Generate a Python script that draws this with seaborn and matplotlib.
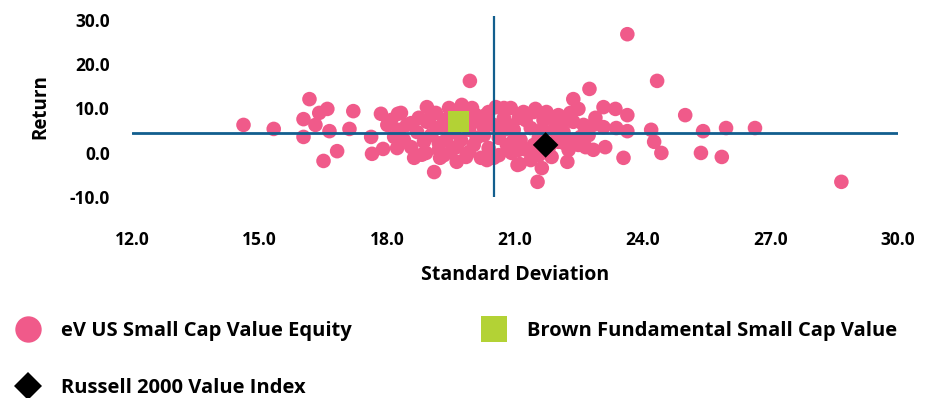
import matplotlib
matplotlib.use("Agg")
import matplotlib.pyplot as plt
from matplotlib.lines import Line2D
import pandas as pd
import seaborn as sns

# eV US Small Cap Value Equity universe (standard deviation, return)
universe_sd = [
    14.62, 15.33, 16.17, 16.03, 16.03, 16.31, 16.40, 16.59, 16.64, 16.82,
    16.50, 17.20, 17.11, 17.85, 17.62, 17.64, 17.90, 18.25, 18.56, 18.16,
    18.56, 18.93, 18.93, 18.81, 19.10, 19.24, 19.94, 19.75, 19.85, 20.20,
    20.50, 21.06, 20.55, 20.90, 23.64, 24.34, 22.75, 22.37, 23.08, 23.36,
    23.64, 22.89, 22.49, 22.30, 25.00, 24.20, 23.64, 23.38, 23.08, 25.42,
    25.96, 26.64, 24.27, 24.44, 25.37, 25.86, 23.55, 23.12, 22.66, 22.54,
    22.23, 21.63, 21.53, 21.11, 28.67, 19.68, 21.48, 21.09, 22.16, 21.86,
    20.92, 22.02, 22.09, 21.44, 21.25, 20.08, 20.31, 18.32, 19.33, 18.91,
    19.63, 19.21,
    18.00, 18.28, 18.39, 18.70, 18.74, 19.03, 19.17, 19.38, 19.45, 19.56,
    19.49, 19.73, 19.92, 20.03, 20.15, 20.27, 20.38, 20.50, 20.62, 20.74,
    20.81, 20.97, 21.13, 21.27, 21.37, 21.56, 21.67, 21.79, 21.91, 22.02,
    21.74, 22.14, 22.26, 22.37, 22.61, 22.73, 22.84, 21.56, 20.62, 19.92,
    19.33, 18.63, 18.23, 18.09, 19.14, 19.99, 20.74, 21.20, 21.86, 20.10,
    19.73, 20.85, 21.44, 21.09, 20.38, 19.45, 18.86, 18.46, 22.37, 21.37,
    20.34, 19.63, 19.56, 20.97, 20.74, 20.27, 19.85, 21.63, 21.98, 22.49,
    22.84, 18.98, 19.21,
]
universe_ret = [
    6.3, 5.4, 12.1, 7.6, 3.6, 6.3, 9.0, 9.9, 4.9, 0.4,
    -1.8, 9.4, 5.4, 8.8, 3.6, -0.2, 0.9, 8.8, 6.7, 3.6,
    1.3, 10.3, 7.0, -0.4, -4.3, -1.1, 16.2, 10.8, -0.9, -1.1,
    -1.1, -2.7, 10.3, 10.1, 26.7, 16.2, 14.4, 12.1, 10.3, 9.9,
    8.5, 7.9, 9.9, 9.0, 8.5, 5.2, 4.9, 5.6, 5.8, 4.9,
    5.6, 5.6, 2.5, 0.0, 0.0, -0.9, -1.1, 1.3, 1.3, 3.6,
    -2.0, -3.4, -6.5, -2.5, -6.5, 9.7, 9.9, 7.9, 2.2, -0.9,
    0.0, 2.5, 6.7, 9.2, 7.4, 8.5, 8.5, 9.0, 7.4, 0.0,
    1.3, 2.2,
    6.3, 5.2, 2.9, 4.7, 7.9, 4.0, 5.6, 2.9, 5.6, 7.9,
    0.2, 2.9, 5.2, 1.8, 7.0, 4.0, 1.1, 6.3, 3.4, 7.9,
    1.8, 5.2, 2.9, 0.7, 5.6, 3.4, 7.4, 1.1, 5.2, 8.5,
    9.2, 4.7, 0.7, 7.0, 6.3, 4.0, 0.7, -0.5, -0.5, 0.2,
    -0.5, -1.1, 1.1, 7.4, 9.0, 10.1, 10.1, 9.2, 7.9, 3.4,
    6.5, 6.3, 1.8, 0.7, 9.2, 10.1, 2.5, 6.3, 2.9, -1.6,
    -1.6, -2.0, 4.7, 2.9, 5.2, 5.6, 7.4, 5.2, 2.9, 1.8,
    6.3, 7.4, 0.7,
]

brown_sd = [19.68]
brown_ret = [7.0]

russell_sd = [21.72]
russell_ret = [1.8]

# universe medians (cross lines)
median_sd = 20.5
median_ret = 4.5

x_ticks = [12.0, 15.0, 18.0, 21.0, 24.0, 27.0, 30.0]
y_ticks = [-10.0, 0.0, 10.0, 20.0, 30.0]

PINK = "#F05A8A"
GREEN = "#B3D235"
LINE = "#125E8E"

sns.set_theme(style="white")
plt.rcParams["font.family"] = ["Open Sans", "DejaVu Sans"]
plt.rcParams["font.weight"] = "bold"
plt.rcParams["text.color"] = "black"
plt.rcParams["axes.labelcolor"] = "black"
plt.rcParams["xtick.color"] = "black"
plt.rcParams["ytick.color"] = "black"

fig = plt.figure(figsize=(9.39, 3.98), dpi=100)
ax = fig.add_axes([0.1406, 0.504, 0.8157, 0.457])

universe = pd.DataFrame({"sd": universe_sd, "ret": universe_ret})
sns.scatterplot(data=universe, x="sd", y="ret", color=PINK, s=110,
                edgecolor="none", linewidth=0, ax=ax, zorder=2)
ax.axhline(median_ret, color=LINE, lw=2, zorder=3)
ax.axvline(median_sd, color=LINE, lw=1.6, zorder=3)
sns.scatterplot(x=brown_sd, y=brown_ret, color=GREEN, marker="s", s=230,
                edgecolor="none", linewidth=0, ax=ax, zorder=4)
sns.scatterplot(x=russell_sd, y=russell_ret, color="black", marker="D", s=170,
                edgecolor="none", linewidth=0, ax=ax, zorder=5)

ax.set_xlim(12, 30)
ax.set_ylim(-10, 30.9)
ax.set_xticks(x_ticks)
ax.set_xticklabels([f"{v:.1f}" for v in x_ticks])
ax.set_yticks(y_ticks)
ax.set_yticklabels([f"{v:.1f}" for v in y_ticks])
ax.tick_params(axis="x", length=0, pad=24, labelsize=12.5)
ax.tick_params(axis="y", length=0, pad=16, labelsize=12.5)
for lab in ax.get_xticklabels() + ax.get_yticklabels():
    lab.set_fontweight("bold")
for sp in ax.spines.values():
    sp.set_visible(False)
ax.grid(False)

ax.set_xlabel("Standard Deviation", fontsize=14, fontweight="bold", labelpad=12)
ax.set_ylabel("Return", fontsize=13.5, fontweight="bold", labelpad=14)

handles = [
    Line2D([], [], ls="none", marker="o", color=PINK, markersize=19, markeredgewidth=0),
    Line2D([], [], ls="none", marker="D", color="black", markersize=14, markeredgewidth=0),
    Line2D([], [], ls="none", marker="s", color=GREEN, markersize=19, markeredgewidth=0),
]
labels = ["eV US Small Cap Value Equity", "Russell 2000 Value Index",
          "Brown Fundamental Small Cap Value"]
fig.legend(handles, labels, loc="upper left", bbox_to_anchor=(-0.004, 0.24),
           ncol=2, frameon=False, handlelength=1.4, handletextpad=0.9,
           labelspacing=1.85, columnspacing=6.4, prop={"weight": "bold", "size": 14.5})

fig.savefig("out.png", dpi=100)
